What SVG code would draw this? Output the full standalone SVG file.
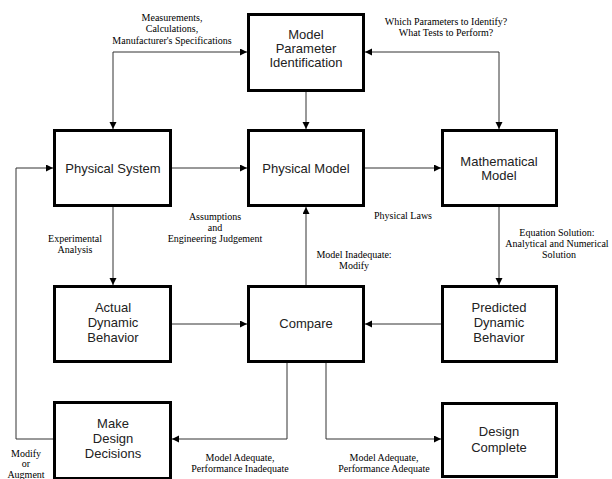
<svg xmlns="http://www.w3.org/2000/svg" width="612" height="479" viewBox="0 0 612 479">
<defs>
<marker id="ah" markerUnits="userSpaceOnUse" markerWidth="8" markerHeight="8" refX="7" refY="3.5" orient="auto-start-reverse">
<path d="M0,0 L7,3.5 L0,7 z" fill="#000"/>
</marker>
</defs>
<style>
.box{fill:#fff;stroke:#000;stroke-width:3}
.bt{font-family:"Liberation Sans",Arial,sans-serif;font-size:13px;fill:#222;text-anchor:middle}
.lb{font-family:"Liberation Serif","Times New Roman",serif;font-size:10px;fill:#000;text-anchor:middle}
.c{fill:none;stroke:#333;stroke-width:1}
.a{marker-end:url(#ah)}
.b{marker-start:url(#ah);marker-end:url(#ah)}
</style>
<rect width="612" height="479" fill="#fff"/>
<g id="connectors">
<path class="c b" d="M247,52 H113 V129"/>
<path class="c b" d="M365,52 H499 V129"/>
<path class="c a" d="M306,92 V129"/>
<path class="c a" d="M172,168 H247"/>
<path class="c a" d="M365,168 H441"/>
<path class="c a" d="M113,207 V285"/>
<path class="c a" d="M499,207 V285"/>
<path class="c a" d="M172,324 H247"/>
<path class="c a" d="M441,324 H365"/>
<path class="c a" d="M306,285 V207"/>
<path class="c a" d="M287,363 V439 H172"/>
<path class="c a" d="M326,363 V439 H441"/>
<path class="c a" d="M53,439 H16 V168 H53"/>
</g>
<g id="labels">
<text class="lb" x="172" y="21">Measurements,</text>
<text class="lb" x="172" y="32">Calculations,</text>
<text class="lb" x="172" y="44">Manufacturer's Specifications</text>
<text class="lb" x="446" y="25">Which Parameters to Identify?</text>
<text class="lb" x="446" y="36">What Tests to Perform?</text>
<text class="lb" x="75" y="242">Experimental</text>
<text class="lb" x="75" y="253">Analysis</text>
<text class="lb" x="215" y="220">Assumptions</text>
<text class="lb" x="215" y="231">and</text>
<text class="lb" x="215" y="242">Engineering Judgement</text>
<text class="lb" x="403" y="219">Physical Laws</text>
<text class="lb" x="557" y="236">Equation Solution:</text>
<text class="lb" x="557" y="247">Analytical and Numerical</text>
<text class="lb" x="559" y="258">Solution</text>
<text class="lb" x="354" y="258">Model Inadequate:</text>
<text class="lb" x="354" y="269">Modify</text>
<text class="lb" x="240" y="461">Model Adequate,</text>
<text class="lb" x="240" y="472">Performance Inadequate</text>
<text class="lb" x="384" y="461">Model Adequate,</text>
<text class="lb" x="384" y="472">Performance Adequate</text>
<text class="lb" x="26" y="457">Modify</text>
<text class="lb" x="26" y="467">or</text>
<text class="lb" x="26" y="478">Augment</text>
</g>
<g id="mpi">
<rect class="box" x="248.5" y="14.5" width="115" height="76"/>
<text class="bt" x="306" y="39">Model</text>
<text class="bt" x="306" y="53">Parameter</text>
<text class="bt" x="306" y="67">Identification</text>
</g>
<g id="physical-system">
<rect class="box" x="54.5" y="130.5" width="116" height="75"/>
<text class="bt" x="113" y="173">Physical System</text>
</g>
<g id="physical-model">
<rect class="box" x="248.5" y="130.5" width="115" height="75"/>
<text class="bt" x="306" y="173">Physical Model</text>
</g>
<g id="mathematical-model">
<rect class="box" x="442.5" y="130.5" width="114" height="75"/>
<text class="bt" x="499" y="166">Mathematical</text>
<text class="bt" x="499" y="180">Model</text>
</g>
<g id="actual">
<rect class="box" x="54.5" y="286.5" width="116" height="75"/>
<text class="bt" x="113" y="312">Actual</text>
<text class="bt" x="113" y="327">Dynamic</text>
<text class="bt" x="113" y="342">Behavior</text>
</g>
<g id="compare">
<rect class="box" x="248.5" y="286.5" width="115" height="75"/>
<text class="bt" x="306" y="328">Compare</text>
</g>
<g id="predicted">
<rect class="box" x="442.5" y="286.5" width="114" height="75"/>
<text class="bt" x="499" y="312">Predicted</text>
<text class="bt" x="499" y="327">Dynamic</text>
<text class="bt" x="499" y="342">Behavior</text>
</g>
<g id="make-design-decisions">
<rect class="box" x="54.5" y="402.5" width="116" height="76"/>
<text class="bt" x="113" y="428">Make</text>
<text class="bt" x="113" y="443">Design</text>
<text class="bt" x="113" y="458">Decisions</text>
</g>
<g id="design-complete">
<rect class="box" x="442.5" y="403.5" width="114" height="73"/>
<text class="bt" x="499" y="436">Design</text>
<text class="bt" x="499" y="452">Complete</text>
</g>
</svg>
